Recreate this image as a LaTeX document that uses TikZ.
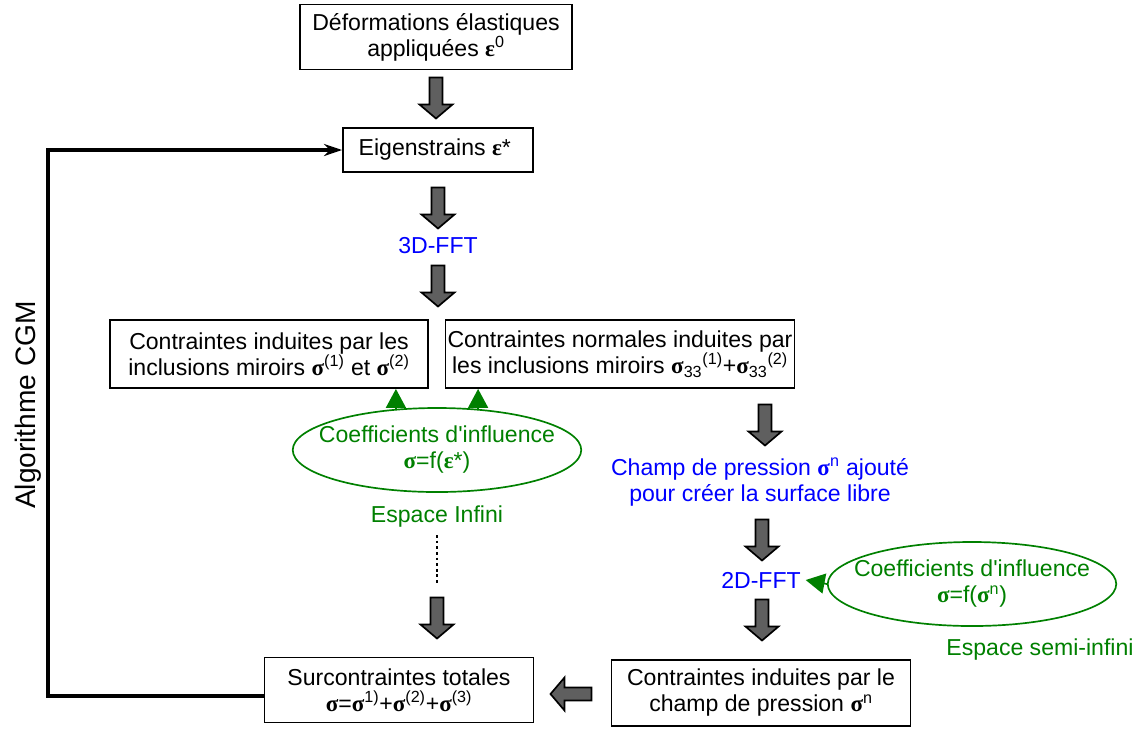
\documentclass[tikz,border=0pt]{standalone}
\usepackage{fontspec}
\usetikzlibrary{shapes.geometric,arrows.meta}

\newfontfamily\arialf{Liberation Sans}
\newfontfamily\timesf{Liberation Serif}
\newcommand{\sig}{{\timesf\bfseries σ}}
\newcommand{\eps}{{\timesf\bfseries ε}}

\definecolor{infgreen}{RGB}{0,128,0}
\definecolor{arrgray}{RGB}{95,95,95}

\tikzset{
    box/.style={draw, line width=1.3pt, align=center, inner sep=0pt},
    blockarr/.pic={
        \draw[fill=arrgray, line width=1.2pt, line join=miter]
            (-6.5,-20.5) -- (6.5,-20.5) -- (6.5,6.5) -- (16.5,6.5)
            -- (0,20.5) -- (-16.5,6.5) -- (-6.5,6.5) -- cycle;
    },
    infell/.style={
        ellipse, draw=infgreen, line width=1.2pt, text=infgreen,
        align=center, inner xsep=-0.4cm, inner ysep=0pt,
        minimum width=7.2cm, minimum height=2.1cm
    },
    bluelab/.style={text=blue, align=center},
    greenlab/.style={text=infgreen, align=center},
    inftri/.style={infgreen, line width=1.2pt, -{Triangle[length=0.475cm,width=0.5cm]}},
    loopline/.style={line width=2.2pt, -{Stealth[length=0.45cm,width=0.3cm]}}
}

\begin{document}
\begin{tikzpicture}[x=0.025cm, y=-0.025cm, font=\arialf\fontsize{16.4}{18.5}\selectfont]
        \useasboundingbox (0,0) rectangle (1143,733);

        \node[box, minimum width=6.8cm, minimum height=1.625cm] (deform) at (436,37) {
            Déformations élastiques\\
            appliquées \eps\textsuperscript{0}
        };
        \node[box, minimum width=4.75cm, minimum height=1.1cm] (eigen) at (438,150) {
            Eigenstrains \eps*
        };
        \node[bluelab] (fft3) at (438,246) {3D-FFT};

        \node[box, minimum width=7.95cm, minimum height=1.7cm] (inclu) at (269,354) {
            Contraintes induites par les\\
            inclusions miroirs \sig\textsuperscript{(1)} et \sig\textsuperscript{(2)}
        };
        \node[box, minimum width=8.725cm, minimum height=1.7cm] (normal) at (620,354) {
            Contraintes normales induites par\\
            les inclusions miroirs \sig\textsubscript{33}\textsuperscript{(1)}+\sig\textsubscript{33}\textsuperscript{(2)}
        };

        \node[infell] (ell1) at (437,450) {
            Coefficients d'influence\\
            \sig=f(\eps*)
        };
        \node[greenlab] (espinf) at (437,517) {Espace Infini};

        \node[bluelab] (champ) at (760,482) {
            Champ de pression \sig\textsuperscript{n} ajouté\\
            pour créer la surface libre
        };
        \node[bluelab] (fft2) at (761,580) {2D-FFT};

        \node[infell] (ell2) at (972,584) {
            Coefficients d'influence\\
            \sig=f(\sig\textsuperscript{n})
        };
        \node[greenlab] (espsemi) at (1040,650) {Espace semi-infini};

        \node[box, minimum width=6.725cm, minimum height=1.625cm] (surc) at (399,690) {
            Surcontraintes totales\\
            \sig=\sig\textsuperscript{1)}+\sig\textsuperscript{(2)}+\sig\textsuperscript{(3)}
        };
        \node[box, minimum width=7.475cm, minimum height=1.65cm] (induit) at (761,693) {
            Contraintes induites par le\\
            champ de pression \sig\textsuperscript{n}
        };

        \node[rotate=90, font=\arialf\fontsize{20}{24}\selectfont] (cgm) at (28,405) {Algorithme CGM};

        \foreach \px/\py in {436/98, 438/208, 438/286, 437/618, 765/425, 762/540, 762/620} {
            \pic at (\px,\py) {blockarr};
        }
        \pic[rotate=-90] at (571,694) {blockarr};

        \draw[inftri] (ell1.135) -- (ell1.135 |- inclu.south);
        \draw[inftri] (ell1.45) -- (ell1.45 |- normal.south);
        \draw[inftri] (ell2.west) -- (fft2.east);

        \coordinate (dotstop) at (437,535);
        \coordinate (dotsbot) at (437,585);
        \draw[line width=2pt, dotted] (dotstop) -- (dotsbot);

        \coordinate (cgmcorner) at (48,150);
        \draw[loopline] ([yshift=-0.15cm]surc.west) -| (cgmcorner) -- (eigen.west);
    \end{tikzpicture}
\end{document}
